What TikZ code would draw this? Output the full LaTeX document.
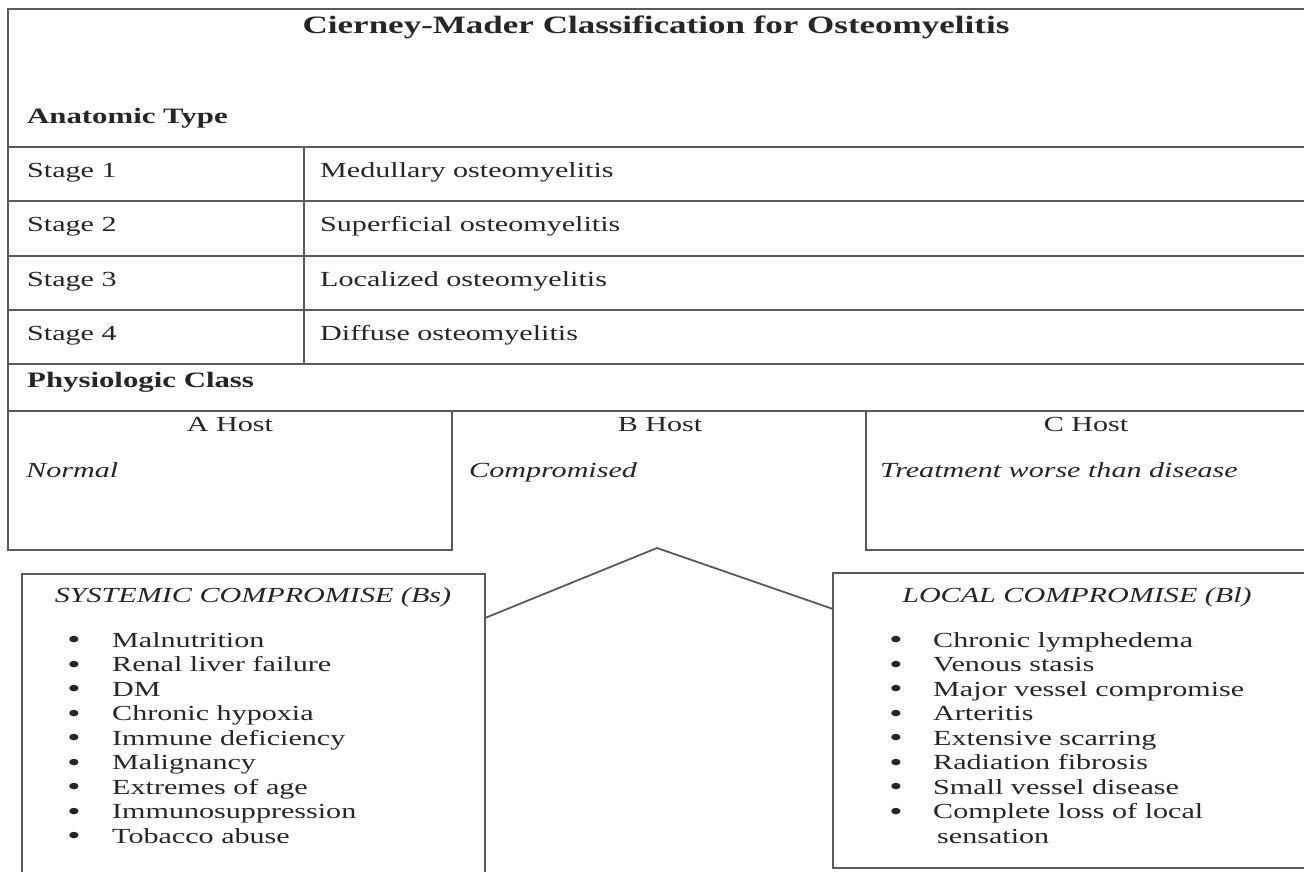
\documentclass[tikz,border=0pt]{standalone}
\usepackage{fontspec}
\setmainfont{Liberation Serif}[FakeStretch=1.4]
\definecolor{lncol}{HTML}{5A5A5A}
\definecolor{txcol}{HTML}{262626}
\begin{document}
\begin{tikzpicture}[x=1pt,y=-1pt,
  ln/.style={draw=lncol, line width=1.8pt},
  boxstyle/.style={draw=lncol, line width=1.8pt, rectangle, inner sep=0pt, outer sep=0pt},
  txt/.style={inner sep=0pt, anchor=base west, text=txcol, font=\fontsize{21.5}{24.5}\selectfont},
  ctxt/.style={txt, anchor=base},
  bold/.style={txt, font=\fontsize{22}{26}\selectfont\bfseries},
  ttl/.style={ctxt, font=\fontsize{25}{30}\selectfont\bfseries},
  ital/.style={txt, font=\fontsize{21.5}{24.5}\selectfont\itshape},
  cital/.style={ital, anchor=base},
  bul/.style={ctxt, font=\fontsize{27}{30}\selectfont, yshift=-1.5pt}]
\useasboundingbox (0,0) rectangle (1304,871);
\fill[white] (0,0) rectangle (1304,871);
\clip (0,0) rectangle (1304,871);

% table frame
\draw[ln] (1312,9) -- (8,9) -- (8,550) -- (452,550) -- (452,411);
\foreach \yy in {147,201,256,310,364,411} \draw[ln] (8,\yy) -- (1312,\yy);
\draw[ln] (304,147) -- (304,364);
\draw[ln] (866,411) -- (866,550) -- (1312,550);

% texts of the table
\node[ttl] (title) at (656,33) {Cierney-Mader Classification for Osteomyelitis};
\node[bold] (anat) at (27,123) {Anatomic Type};
\node[txt] (st1) at (27,177) {Stage 1};
\node[txt] (st2) at (27,231) {Stage 2};
\node[txt] (st3) at (27,286) {Stage 3};
\node[txt] (st4) at (27,340) {Stage 4};
\node[txt] (d1) at (320,177) {Medullary osteomyelitis};
\node[txt] (d2) at (320,231) {Superficial osteomyelitis};
\node[txt] (d3) at (320,286) {Localized osteomyelitis};
\node[txt] (d4) at (320,340) {Diffuse osteomyelitis};
\node[bold] (phys) at (27,387) {Physiologic Class};
\node[ctxt] (ah) at (230,431) {A Host};
\node[ctxt] (bh) at (660,431) {B Host};
\node[ctxt] (ch) at (1086,431) {C Host};
\node[ital] (an) at (26,477) {Normal};
\node[ital] (bn) at (469,477) {Compromised};
\node[ital] (cn) at (880,477) {Treatment worse than disease};

% compromise boxes
\node[boxstyle, anchor=north west, minimum width=463pt, minimum height=320pt] (sys) at (22,574) {};
\node[boxstyle, anchor=north west, minimum width=500pt, minimum height=295pt] (loc) at (833,573) {};
\coordinate (peak) at (657,548);
\draw[ln, line join=miter] ([yshift=-44pt]sys.north east) -- (peak) -- ([yshift=-36pt]loc.north west);

\node[cital] (systtl) at (253,602) {SYSTEMIC COMPROMISE (Bs)};
\node[cital] (locttl) at (1077,602) {LOCAL COMPROMISE (Bl)};

\foreach \t [count=\i] in {Malnutrition, Renal liver failure, DM, Chronic hypoxia, Immune deficiency, Malignancy, Extremes of age, Immunosuppression, Tobacco abuse} {
  \node[bul] (sb\i) at (74,{647+24.5*(\i-1)}) {•};
  \node[txt] (si\i) at (112,{647+24.5*(\i-1)}) {\t};
}
\foreach \t [count=\i] in {Chronic lymphedema, Venous stasis, Major vessel compromise, Arteritis, Extensive scarring, Radiation fibrosis, Small vessel disease, Complete loss of local} {
  \node[bul] (lb\i) at (896,{647+24.5*(\i-1)}) {•};
  \node[txt] (li\i) at (933,{647+24.5*(\i-1)}) {\t};
}
\node[txt] (li9) at (937,843) {sensation};
\end{tikzpicture}
\end{document}
